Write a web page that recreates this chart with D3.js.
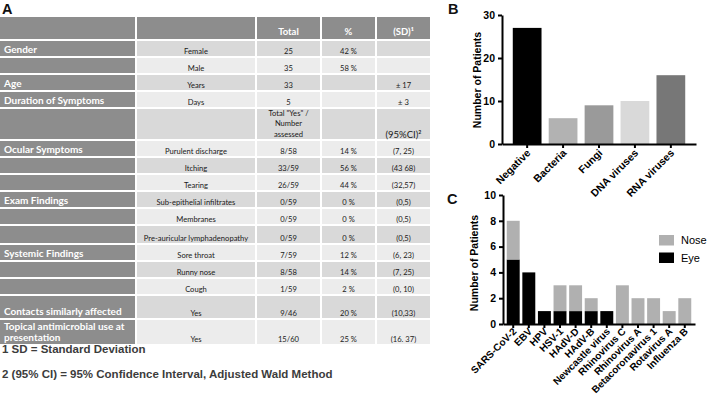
<!DOCTYPE html>
<html><head><meta charset="utf-8">
<script src="https://cdn.jsdelivr.net/npm/d3@7"></script>
<style>body{margin:0;background:#fff;} svg{display:block;}</style>
</head><body>
<svg id="fig" width="708" height="398"></svg>
<script>
// ---------- DATA ----------
const tableHeader = ["", "", "Total", "%", "(SD)¹"];
const rowCategory = ["Gender","","Age","Duration of Symptoms","","Ocular Symptoms","","","Exam Findings","","","Systemic Findings","","","Contacts similarly affected","Topical antimicrobial use at\npresentation"];
const rowItem = ["Female","Male","Years","Days","","Purulent discharge","Itching","Tearing","Sub-epithelial infiltrates","Membranes","Pre-auricular lymphadenopathy","Sore throat","Runny nose","Cough","Yes","Yes"];
const rowTotal = ["25","35","33","5","Total \"Yes\" /\nNumber\nassessed","8/58","33/59","26/59","0/59","0/59","0/59","7/59","8/58","1/59","9/46","15/60"];
const rowPct = ["42 %","58 %","","","","14 %","56 %","44 %","0 %","0 %","0 %","12 %","14 %","2 %","20 %","25 %"];
const rowSD = ["","","± 17","± 3","(95%CI)²","(7, 25)","(43 68)","(32,57)","(0,5)","(0,5)","(0,5)","(6, 23)","(7, 25)","(0, 10)","(10,33)","(16. 37)"];
const footnotes = ["1 SD = Standard Deviation","2 (95% CI) = 95% Confidence Interval, Adjusted Wald Method"];

const bCategories = ["Negative","Bacteria","Fungi","DNA viruses","RNA viruses"];
const bValues = [27,6,9,10,16];
const bTicks = [0,10,20,30];

const cCategories = ["SARS-CoV-2","EBV","HPV","HSV-1","HAdV-D","HAdV-B","Newcastle virus","Rhinovirus C","Rhinovirus A","Betacoronavirus 1","Rotavirus A","Influenza B"];
const cEye  = [5,4,1,1,1,1,1,0,0,0,0,0];
const cNose = [3,0,0,2,2,1,0,3,2,2,1,2];
const cTicks = [0,2,4,6,8,10];
const cSeries = ["Eye","Nose"];

// ---------- STYLE / LAYOUT ----------
const bColors = ["#000000","#b2b2b2","#9a9a9a","#d9d9d9","#777777"];
const cColors = {Eye:"#000000", Nose:"#b0b0b0"};
const colX = [0,137,257,322,377];
const colW = [135,118,63,53,53];
const rowH = [15,15,15,15,30,15,15,15,15,15,17,15,15,15,22,24];
const tableFont = "Lato, 'Open Sans', sans-serif";
const arial = "'Liberation Sans', Arial, sans-serif";

const svg = d3.select("#fig");

// ---------- PANEL A: TABLE ----------
const headerTop = 17, headerH = 22, gap = 2;
const gHead = svg.append("g");
tableHeader.forEach((h,j)=>{
  gHead.append("rect").attr("x",colX[j]).attr("y",headerTop).attr("width",colW[j]).attr("height",headerH).attr("fill","#8d8d8d");
  if(h) gHead.append("text").attr("x",colX[j]+colW[j]/2).attr("y",headerTop+headerH-4)
    .attr("text-anchor","middle").attr("font-family",tableFont).attr("font-weight","bold")
    .attr("font-size",9.5).attr("fill","#fff").text(h);
});
let tops = []; let y0 = headerTop+headerH+gap;
rowH.forEach(h=>{tops.push(y0); y0 += h+gap;});
const cols = [rowCategory,rowItem,rowTotal,rowPct,rowSD];
const gBody = svg.append("g");
rowH.forEach((h,i)=>{
  const top = tops[i], bottom = top+h;
  cols.forEach((col,j)=>{
    const fill = j===0 ? "#8d8d8d" : (i%2===0 ? "#d9d9d9" : "#ececec");
    gBody.append("rect").attr("x",colX[j]).attr("y",top).attr("width",colW[j]).attr("height",h).attr("fill",fill);
    const txt = col[i]; if(!txt) return;
    const lines = txt.split("\n");
    if(j===0){
      const lh = 11;
      lines.forEach((ln,k)=>{
        gBody.append("text").attr("x",4).attr("y",bottom-3-(lines.length-1-k)*lh)
          .attr("font-family",tableFont).attr("font-weight","bold").attr("font-size",10)
          .attr("fill","#fff").text(ln);
      });
    } else {
      const big = txt.startsWith("(95%");
      const lh = 10.3;
      lines.forEach((ln,k)=>{
        gBody.append("text").attr("x",colX[j]+colW[j]/2).attr("y",bottom-(big?1.5:2.5)-(lines.length-1-k)*lh)
          .attr("text-anchor","middle").attr("font-family",tableFont)
          .attr("font-size",big?9.5:7.6).attr("fill","#1a1a1a").text(ln);
      });
    }
  });
});
footnotes.forEach((f,i)=>{
  svg.append("text").attr("x",2).attr("y",353+i*25).attr("font-family",arial).attr("font-weight","bold")
    .attr("font-size",11.5).attr("fill","#3c3c3c").text(f);
});
// panel letters
[["A",2,14],["B",448,14],["C",447,204]].forEach(([t,x,y])=>{
  svg.append("text").attr("x",x).attr("y",y).attr("font-family",arial).attr("font-weight","bold")
    .attr("font-size",14.5).attr("fill","#111").text(t);
});

function styleAxis(g, fs){
  g.select(".domain").attr("stroke","#000").attr("stroke-width",2);
  g.selectAll(".tick line").attr("stroke","#000").attr("stroke-width",2);
  g.selectAll(".tick text").attr("font-family",arial).attr("font-weight","bold").attr("font-size",fs||10.5).attr("fill","#000");
}

// ---------- PANEL B ----------
const bx = d3.scaleBand().domain(bCategories).range([502,696]).paddingInner(0.2).paddingOuter(0.3);
const by = d3.scaleLinear().domain([0,30]).range([144,15]);
svg.append("g").selectAll("rect").data(bCategories).join("rect")
  .attr("x",d=>bx(d)).attr("width",bx.bandwidth())
  .attr("y",(d,i)=>by(bValues[i])).attr("height",(d,i)=>by(0)-by(bValues[i]))
  .attr("fill",(d,i)=>bColors[i]);
const bxAxis = svg.append("g").attr("transform","translate(0,144)")
  .call(d3.axisBottom(bx).tickSizeInner(4).tickSizeOuter(0));
styleAxis(bxAxis);
bxAxis.selectAll(".tick text").attr("transform","rotate(-45)").attr("text-anchor","end")
  .attr("x",-4).attr("y",6).attr("dy","0.35em");
const byAxis = svg.append("g").attr("transform","translate(502,0)")
  .call(d3.axisLeft(by).tickValues(bTicks).tickSizeInner(4).tickSizeOuter(0));
styleAxis(byAxis);
svg.append("text").attr("transform","translate(481,80) rotate(-90)").attr("text-anchor","middle")
  .attr("font-family",arial).attr("font-weight","bold").attr("font-size",10.5).text("Number of Patients");

// ---------- PANEL C ----------
const cx = d3.scaleBand().domain(cCategories).range([503,695]).paddingInner(0.17).paddingOuter(0.24);
const cy = d3.scaleLinear().domain([0,10]).range([324,195]);
const cTable = cCategories.map((c,i)=>({cat:c, Eye:cEye[i], Nose:cNose[i]}));
const stacked = d3.stack().keys(cSeries)(cTable);
svg.append("g").selectAll("g").data(stacked).join("g").attr("fill",d=>cColors[d.key])
  .selectAll("rect").data(d=>d).join("rect")
  .attr("x",d=>cx(d.data.cat)).attr("width",cx.bandwidth())
  .attr("y",d=>cy(d[1])).attr("height",d=>cy(d[0])-cy(d[1]));
const cxAxis = svg.append("g").attr("transform","translate(0,324)")
  .call(d3.axisBottom(cx).tickSizeInner(4).tickSizeOuter(0));
styleAxis(cxAxis, 10);
cxAxis.selectAll(".tick text").attr("transform","rotate(-45)").attr("text-anchor","end")
  .attr("x",-3).attr("y",5).attr("dy","0.35em");
const cyAxis = svg.append("g").attr("transform","translate(503,0)")
  .call(d3.axisLeft(cy).tickValues(cTicks).tickSizeInner(4).tickSizeOuter(0));
styleAxis(cyAxis);
svg.append("text").attr("transform","translate(478,263) rotate(-90)").attr("text-anchor","middle")
  .attr("font-family",arial).attr("font-weight","bold").attr("font-size",10.5).text("Number of Patients");
// legend
const legendOrder = ["Nose","Eye"];
const lg = svg.append("g");
legendOrder.forEach((k,i)=>{
  lg.append("rect").attr("x",659).attr("y",235+i*17.5).attr("width",15).attr("height",10.5).attr("fill",cColors[k]);
  lg.append("text").attr("x",681).attr("y",244+i*17.5).attr("font-family",arial).attr("font-size",11).attr("fill","#000").text(k);
});
</script>
</body></html>
